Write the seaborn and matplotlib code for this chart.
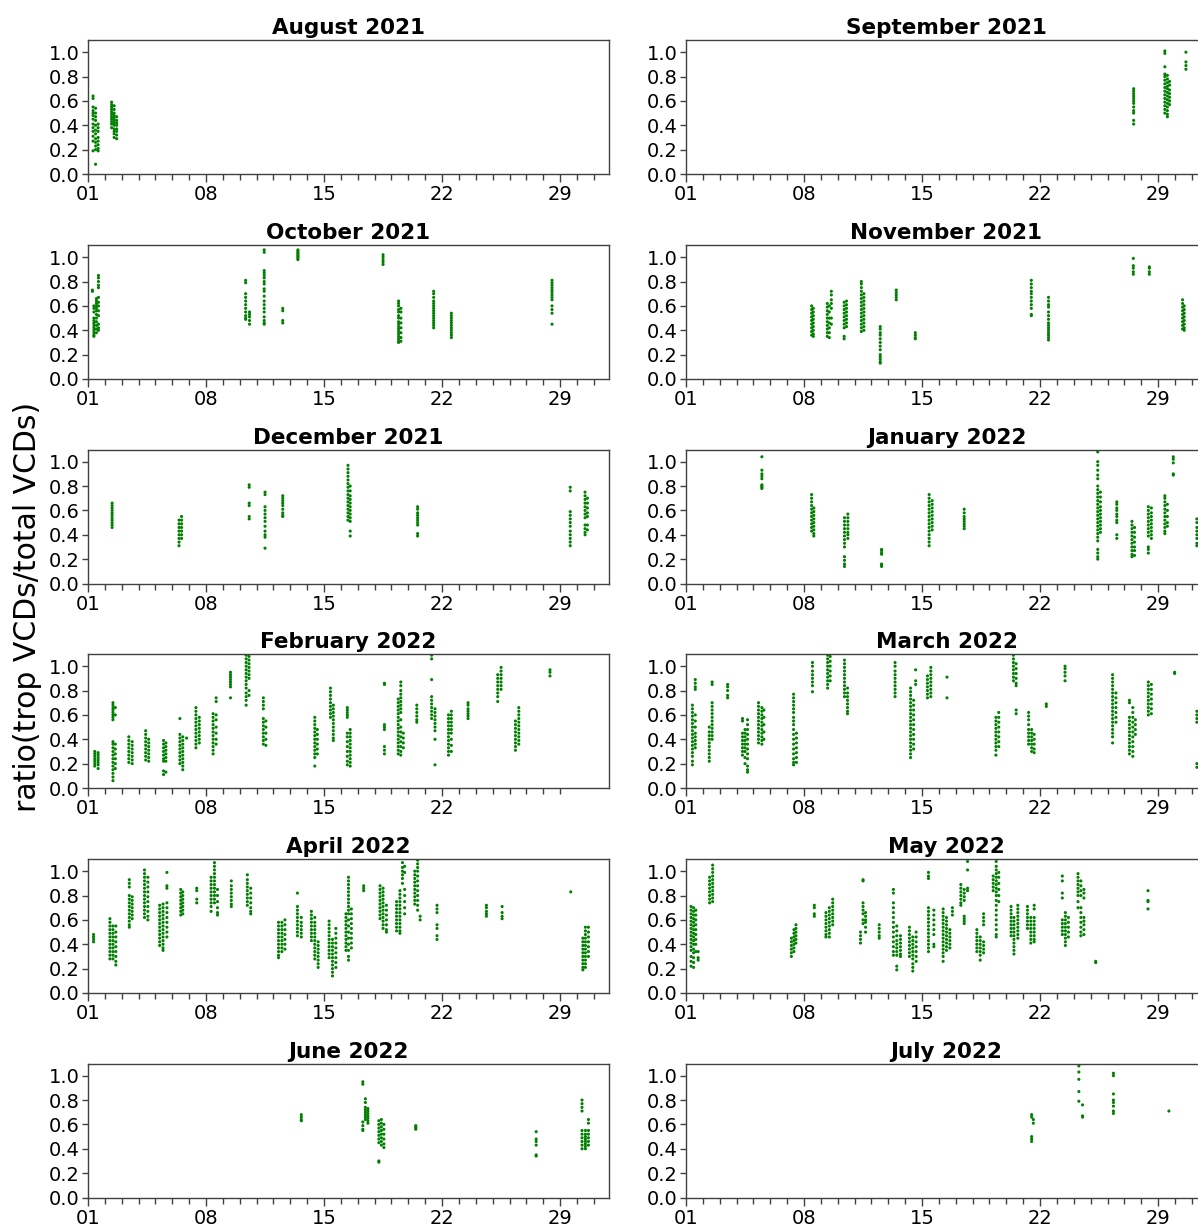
import numpy as np
import pandas as pd
import matplotlib
matplotlib.use("Agg")
import matplotlib.pyplot as plt
import seaborn as sns
from matplotlib.ticker import FixedLocator

# ---------------- data (day of month, ratio values) ----------------
MONTH_TITLES = ["August 2021", "September 2021", "October 2021", "November 2021",
                "December 2021", "January 2022", "February 2022", "March 2022",
                "April 2022", "May 2022", "June 2022", "July 2022"]
MONTH_DAYS = [31, 30, 31, 30, 31, 31, 28, 31, 30, 31, 30, 31]

AUG_2021 = [
    (1.30, [0.64, 0.62, 0.55, 0.52, 0.50, 0.48, 0.45, 0.41, 0.38, 0.35, 0.31, 0.27, 0.19]),
    (1.45, [0.54, 0.50, 0.47, 0.44, 0.40, 0.36, 0.33, 0.29, 0.26, 0.23, 0.20, 0.08]),
    (1.60, [0.41, 0.38, 0.35, 0.30, 0.27, 0.24, 0.21, 0.19]),
    (2.40, [0.59, 0.57, 0.55, 0.53, 0.51, 0.49, 0.47, 0.45, 0.43, 0.41, 0.38]),
    (2.55, [0.56, 0.53, 0.50, 0.48, 0.46, 0.44, 0.42, 0.40, 0.37, 0.35, 0.33, 0.30]),
    (2.70, [0.47, 0.44, 0.42, 0.40, 0.37, 0.35, 0.32, 0.29]),
]
SEP_2021 = [
    (27.55, [0.70, 0.68, 0.66, 0.64, 0.62, 0.60, 0.58, 0.55, 0.52, 0.50, 0.44, 0.41]),
    (29.40, [1.01, 0.99, 0.88, 0.82, 0.80, 0.77, 0.74, 0.71, 0.68, 0.65, 0.62, 0.59, 0.56, 0.53, 0.50]),
    (29.55, [0.81, 0.78, 0.75, 0.72, 0.70, 0.67, 0.64, 0.61, 0.58, 0.55, 0.52, 0.49, 0.47]),
    (29.68, [0.76, 0.73, 0.69, 0.66, 0.63, 0.60, 0.57]),
    (30.65, [1.00, 0.92, 0.89, 0.86]),
]
OCT_2021 = [
    (1.26, [0.73, 0.72]),
    (1.35, [0.60, 0.58, 0.55, 0.50, 0.48, 0.46, 0.44, 0.42, 0.40, 0.38, 0.36, 0.35]),
    (1.50, [0.66, 0.64, 0.62, 0.60, 0.58, 0.56, 0.53, 0.50, 0.47, 0.44, 0.41, 0.38]),
    (1.62, [0.85, 0.83, 0.80, 0.77, 0.75, 0.67, 0.63, 0.60, 0.56, 0.52, 0.45, 0.42, 0.40]),
    (10.35, [0.81, 0.79, 0.70, 0.67, 0.64, 0.61, 0.58, 0.55, 0.52, 0.50, 0.49]),
    (10.58, [0.55, 0.53, 0.51, 0.48, 0.45]),
    (11.45, [1.06, 1.04, 0.89, 0.87, 0.85, 0.83, 0.80, 0.78, 0.74, 0.72, 0.68, 0.64, 0.61, 0.58, 0.55, 0.51, 0.48, 0.46, 0.45]),
    (12.55, [0.58, 0.56, 0.48, 0.46]),
    (13.45, [1.06, 1.05, 1.04, 1.03, 1.02, 1.01, 1.00, 0.99, 0.98]),
    (18.50, [1.02, 1.00, 0.98, 0.96, 0.94]),
    (19.42, [0.64, 0.62, 0.60, 0.57, 0.55, 0.52, 0.50, 0.47, 0.45, 0.43, 0.41, 0.39, 0.37, 0.35, 0.33, 0.31, 0.30]),
    (19.56, [0.58, 0.55, 0.50, 0.46, 0.42, 0.38, 0.34, 0.31]),
    (21.50, [0.72, 0.70, 0.67, 0.64, 0.62, 0.60, 0.58, 0.56, 0.54, 0.52, 0.50, 0.48, 0.46, 0.44, 0.42]),
    (22.55, [0.54, 0.52, 0.50, 0.48, 0.46, 0.44, 0.42, 0.40, 0.38, 0.36, 0.34]),
    (28.52, [0.81, 0.79, 0.77, 0.75, 0.73, 0.71, 0.69, 0.67, 0.65, 0.60, 0.57, 0.54, 0.45]),
]
NOV_2021 = [
    (8.45, [0.60, 0.57, 0.54, 0.51, 0.48, 0.45, 0.42, 0.39, 0.36]),
    (8.55, [0.58, 0.55, 0.52, 0.49, 0.46, 0.43, 0.40, 0.37, 0.35]),
    (9.38, [0.62, 0.59, 0.56, 0.53, 0.50, 0.47, 0.44, 0.41, 0.38, 0.35]),
    (9.50, [0.60, 0.55, 0.50, 0.46, 0.42, 0.38, 0.34]),
    (9.62, [0.72, 0.69, 0.65, 0.62, 0.58, 0.50, 0.45]),
    (10.38, [0.63, 0.60, 0.57, 0.54, 0.51, 0.48, 0.45, 0.42, 0.35, 0.33]),
    (10.52, [0.64, 0.61, 0.58, 0.55, 0.52, 0.49, 0.46, 0.43]),
    (11.40, [0.80, 0.78, 0.75, 0.72, 0.69, 0.66, 0.63, 0.60, 0.57, 0.54, 0.51, 0.48, 0.45, 0.42, 0.39]),
    (11.55, [0.70, 0.67, 0.64, 0.61, 0.58, 0.55, 0.52, 0.49, 0.46, 0.43, 0.40]),
    (12.52, [0.43, 0.41, 0.38, 0.36, 0.33, 0.30, 0.27, 0.24, 0.20, 0.18, 0.16, 0.14, 0.13]),
    (13.47, [0.73, 0.71, 0.69, 0.67, 0.65]),
    (14.60, [0.38, 0.36, 0.34, 0.33]),
    (21.48, [0.81, 0.78, 0.75, 0.72, 0.70, 0.67, 0.64, 0.61, 0.58, 0.53, 0.52]),
    (22.50, [0.67, 0.64, 0.61, 0.59, 0.55, 0.52, 0.49, 0.46, 0.44, 0.42, 0.40, 0.38, 0.36, 0.34, 0.32]),
    (27.53, [0.99, 0.93, 0.91, 0.88, 0.86]),
    (28.48, [0.92, 0.91, 0.88, 0.86]),
    (30.45, [0.65, 0.62, 0.59, 0.56, 0.53, 0.50, 0.47, 0.44, 0.41]),
    (30.55, [0.60, 0.57, 0.54, 0.51, 0.48, 0.45, 0.42, 0.40]),
]
DEC_2021 = [
    (2.43, [0.66, 0.64, 0.62, 0.60, 0.58, 0.56, 0.54, 0.52, 0.50, 0.48, 0.46]),
    (6.40, [0.52, 0.49, 0.46, 0.43, 0.40, 0.37, 0.34, 0.31]),
    (6.55, [0.55, 0.52, 0.49, 0.46, 0.43, 0.40, 0.37]),
    (10.56, [0.81, 0.79, 0.66, 0.64, 0.55, 0.53]),
    (11.50, [0.75, 0.73, 0.63, 0.60, 0.57, 0.54, 0.51, 0.47, 0.43, 0.40, 0.38, 0.29]),
    (12.55, [0.72, 0.70, 0.68, 0.66, 0.64, 0.61, 0.58, 0.56, 0.55]),
    (16.42, [0.97, 0.94, 0.91, 0.88, 0.85, 0.82, 0.79, 0.76, 0.73, 0.70, 0.67, 0.64, 0.61, 0.58, 0.55, 0.52]),
    (16.55, [0.80, 0.76, 0.72, 0.69, 0.66, 0.63, 0.60, 0.57, 0.54, 0.51, 0.43, 0.39]),
    (20.55, [0.63, 0.61, 0.58, 0.56, 0.54, 0.52, 0.50, 0.48, 0.41, 0.39]),
    (29.60, [0.79, 0.76, 0.59, 0.56, 0.53, 0.50, 0.47, 0.43, 0.40, 0.37, 0.34, 0.31]),
    (30.48, [0.75, 0.72, 0.69, 0.66, 0.63, 0.60, 0.57, 0.54, 0.48, 0.45, 0.42, 0.40]),
    (30.62, [0.70, 0.66, 0.62, 0.58, 0.55, 0.48, 0.44]),
]
JAN_2022 = [
    (5.50, [1.04, 0.93, 0.90, 0.88, 0.86, 0.81, 0.80, 0.79, 0.78]),
    (8.45, [0.73, 0.70, 0.67, 0.64, 0.61, 0.58, 0.55, 0.52, 0.49, 0.46, 0.43]),
    (8.58, [0.62, 0.59, 0.56, 0.53, 0.50, 0.47, 0.44, 0.41, 0.39]),
    (10.40, [0.54, 0.51, 0.48, 0.45, 0.42, 0.39, 0.36, 0.33, 0.30, 0.22, 0.19, 0.16, 0.14]),
    (10.60, [0.57, 0.54, 0.51, 0.48, 0.45, 0.42, 0.40, 0.37]),
    (12.60, [0.28, 0.27, 0.25, 0.24, 0.16, 0.15, 0.14]),
    (15.42, [0.73, 0.70, 0.67, 0.64, 0.61, 0.58, 0.55, 0.52, 0.49, 0.46, 0.43, 0.40, 0.37, 0.34, 0.31]),
    (15.60, [0.68, 0.65, 0.62, 0.59, 0.56, 0.53, 0.50, 0.47, 0.44]),
    (17.50, [0.61, 0.58, 0.55, 0.53, 0.51, 0.49, 0.47, 0.45]),
    (25.42, [1.08, 1.00, 0.97, 0.93, 0.89, 0.86, 0.80, 0.77, 0.74, 0.71, 0.68, 0.65, 0.62, 0.59, 0.56,
             0.53, 0.50, 0.47, 0.44, 0.41, 0.38, 0.35, 0.28, 0.25, 0.22, 0.20]),
    (25.58, [0.75, 0.71, 0.67, 0.63, 0.60, 0.57, 0.54, 0.51, 0.48, 0.45, 0.42]),
    (26.55, [0.67, 0.65, 0.62, 0.60, 0.57, 0.55, 0.52, 0.50, 0.40, 0.37]),
    (27.45, [0.51, 0.48, 0.45, 0.42, 0.39, 0.36, 0.33, 0.30, 0.27, 0.24, 0.22]),
    (27.60, [0.46, 0.42, 0.38, 0.34, 0.30, 0.27, 0.23]),
    (28.42, [0.63, 0.60, 0.57, 0.54, 0.51, 0.48, 0.45, 0.42, 0.39, 0.30, 0.28, 0.25]),
    (28.60, [0.62, 0.58, 0.55, 0.52, 0.49, 0.46, 0.43, 0.40, 0.37]),
    (29.40, [0.72, 0.70, 0.67, 0.64, 0.61, 0.58, 0.55, 0.52, 0.49, 0.46, 0.43, 0.41]),
    (29.55, [0.65, 0.60, 0.55, 0.50, 0.47]),
    (29.90, [1.04, 1.02, 0.99, 0.90, 0.89]),
    (31.30, [0.53, 0.50, 0.46, 0.43, 0.40, 0.37, 0.33, 0.31]),
]
FEB_2022 = [
    (1.40, [0.30, 0.28, 0.26, 0.24, 0.22, 0.20, 0.18]),
    (1.60, [0.29, 0.27, 0.25, 0.23, 0.21, 0.19, 0.16]),
    (2.48, [0.70, 0.68, 0.66, 0.64, 0.62, 0.60, 0.58, 0.56, 0.38, 0.36, 0.33, 0.30, 0.27, 0.24, 0.21,
            0.18, 0.15, 0.12, 0.09, 0.06]),
    (2.62, [0.66, 0.60, 0.36, 0.32, 0.28, 0.24, 0.20, 0.16]),
    (3.42, [0.42, 0.39, 0.36, 0.33, 0.30, 0.27, 0.24, 0.21]),
    (3.62, [0.38, 0.35, 0.32, 0.29, 0.26, 0.23, 0.20]),
    (4.42, [0.47, 0.44, 0.41, 0.38, 0.35, 0.32, 0.29, 0.26, 0.23]),
    (4.60, [0.40, 0.37, 0.34, 0.31, 0.28, 0.25, 0.22]),
    (5.48, [0.39, 0.36, 0.33, 0.30, 0.27, 0.24, 0.22, 0.14, 0.11]),
    (5.62, [0.37, 0.34, 0.31, 0.28, 0.25, 0.22, 0.13]),
    (6.45, [0.57, 0.44, 0.41, 0.38, 0.35, 0.32, 0.29, 0.26, 0.23, 0.20]),
    (6.62, [0.42, 0.39, 0.36, 0.33, 0.30, 0.27, 0.24, 0.21, 0.18, 0.15]),
    (6.85, [0.41]),
    (7.40, [0.66, 0.63, 0.60, 0.57, 0.54, 0.51, 0.48, 0.45, 0.42, 0.39, 0.36, 0.33]),
    (7.60, [0.58, 0.55, 0.52, 0.49, 0.46, 0.43, 0.40, 0.37]),
    (8.42, [0.61, 0.58, 0.55, 0.52, 0.49, 0.46, 0.43, 0.40, 0.37, 0.34, 0.31, 0.28]),
    (8.60, [0.74, 0.71, 0.60, 0.56, 0.50, 0.45, 0.40, 0.36]),
    (9.45, [0.95, 0.93, 0.91, 0.89, 0.87, 0.85, 0.83, 0.74]),
    (10.38, [1.09, 1.06, 1.03, 1.00, 0.97, 0.94, 0.91, 0.88, 0.85, 0.82, 0.78, 0.75, 0.72, 0.68]),
    (10.55, [1.08, 1.05, 1.02, 0.99, 0.96, 0.93, 0.90, 0.80, 0.76]),
    (11.40, [0.74, 0.71, 0.68, 0.65, 0.57, 0.54, 0.51, 0.48, 0.45, 0.42, 0.39, 0.36]),
    (11.55, [0.55, 0.50, 0.45, 0.40, 0.35]),
    (14.45, [0.58, 0.55, 0.52, 0.49, 0.46, 0.43, 0.40, 0.37, 0.34, 0.31, 0.28, 0.25, 0.18]),
    (14.60, [0.48, 0.44, 0.40, 0.36, 0.32, 0.28]),
    (15.38, [0.82, 0.79, 0.76, 0.73, 0.70, 0.67, 0.64, 0.61, 0.58]),
    (15.55, [0.68, 0.65, 0.62, 0.59, 0.56, 0.53, 0.50, 0.47, 0.44, 0.41, 0.39]),
    (16.38, [0.66, 0.64, 0.62, 0.60, 0.58, 0.45, 0.42, 0.38, 0.34, 0.30, 0.26, 0.22, 0.19]),
    (16.55, [0.48, 0.45, 0.42, 0.39, 0.36, 0.33, 0.30, 0.27, 0.24, 0.21, 0.18]),
    (18.58, [0.86, 0.85, 0.52, 0.50, 0.48, 0.34, 0.31, 0.28]),
    (19.40, [0.73, 0.70, 0.67, 0.64, 0.61, 0.58, 0.55, 0.52, 0.49, 0.46, 0.43, 0.40, 0.37, 0.34, 0.31, 0.28]),
    (19.55, [0.87, 0.84, 0.80, 0.77, 0.74, 0.71, 0.68, 0.65, 0.62, 0.56, 0.50, 0.46, 0.42, 0.38, 0.34,
             0.30, 0.27]),
    (19.70, [0.45, 0.41, 0.37, 0.33]),
    (20.50, [0.68, 0.65, 0.62, 0.59, 0.56, 0.54]),
    (21.38, [1.09, 1.06, 0.89, 0.75, 0.72, 0.69, 0.66, 0.63, 0.60, 0.57]),
    (21.58, [0.65, 0.62, 0.59, 0.56, 0.53, 0.50, 0.47, 0.40, 0.19]),
    (22.38, [0.60, 0.57, 0.54, 0.51, 0.48, 0.45, 0.42, 0.39, 0.36, 0.33, 0.30, 0.27]),
    (22.55, [0.63, 0.60, 0.57, 0.54, 0.51, 0.48, 0.45, 0.40, 0.35, 0.30]),
    (23.54, [0.70, 0.68, 0.65, 0.63, 0.61, 0.59, 0.57]),
    (25.30, [0.93, 0.90, 0.87, 0.84, 0.81, 0.78, 0.75, 0.71]),
    (25.50, [0.99, 0.96, 0.93, 0.90, 0.87, 0.84, 0.81]),
    (26.35, [0.55, 0.52, 0.49, 0.46, 0.43, 0.40, 0.37, 0.34, 0.31]),
    (26.55, [0.66, 0.63, 0.60, 0.57, 0.54, 0.51, 0.48, 0.45, 0.42, 0.39, 0.36]),
    (28.40, [0.97, 0.95, 0.92]),
]
MAR_2022 = [
    (1.38, [0.68, 0.65, 0.62, 0.59, 0.56, 0.53, 0.50, 0.47, 0.44, 0.41, 0.38, 0.35, 0.32, 0.29, 0.26, 0.22, 0.19]),
    (1.55, [0.89, 0.86, 0.83, 0.81, 0.60, 0.55, 0.50, 0.45, 0.42, 0.39, 0.36, 0.33]),
    (2.38, [0.50, 0.46, 0.43, 0.40, 0.37, 0.34, 0.31, 0.28, 0.25, 0.22]),
    (2.55, [0.87, 0.85, 0.70, 0.67, 0.64, 0.61, 0.58, 0.55, 0.52, 0.49, 0.46, 0.43, 0.40]),
    (3.47, [0.85, 0.83, 0.80, 0.76, 0.74]),
    (4.35, [0.57, 0.55, 0.45, 0.42, 0.39, 0.36, 0.33, 0.30, 0.27]),
    (4.50, [0.48, 0.45, 0.42, 0.39, 0.36, 0.33, 0.30, 0.25, 0.20]),
    (4.65, [0.56, 0.52, 0.48, 0.44, 0.40, 0.36, 0.32, 0.28, 0.24, 0.18, 0.15, 0.13]),
    (5.30, [0.70, 0.67, 0.64, 0.61, 0.58, 0.55, 0.52, 0.49, 0.46, 0.43, 0.40, 0.37]),
    (5.50, [0.66, 0.63, 0.60, 0.57, 0.54, 0.51, 0.48, 0.45, 0.42, 0.39, 0.36]),
    (5.62, [0.64, 0.58, 0.52, 0.46, 0.40]),
    (7.38, [0.77, 0.74, 0.71, 0.68, 0.65, 0.62, 0.58, 0.55, 0.52, 0.48, 0.44, 0.40, 0.36, 0.32, 0.28, 0.24, 0.21, 0.19]),
    (7.55, [0.45, 0.41, 0.37, 0.33, 0.29, 0.25, 0.21]),
    (8.50, [1.03, 1.00, 0.96, 0.93, 0.90, 0.87, 0.84, 0.79]),
    (9.40, [1.09, 1.06, 1.03, 1.00, 0.97, 0.94, 0.91, 0.88, 0.85, 0.82]),
    (9.55, [1.08, 1.04, 1.00, 0.96, 0.92, 0.88]),
    (10.40, [1.05, 1.02, 0.99, 0.96, 0.93, 0.90, 0.87, 0.84, 0.81, 0.78, 0.75]),
    (10.58, [0.82, 0.78, 0.75, 0.72, 0.69, 0.66, 0.63, 0.61]),
    (13.40, [1.03, 1.00, 0.96, 0.93, 0.90, 0.87, 0.84, 0.81, 0.78, 0.75]),
    (14.32, [0.82, 0.79, 0.76, 0.73, 0.70, 0.67, 0.64, 0.61, 0.58, 0.55, 0.52, 0.49, 0.46, 0.43, 0.40,
             0.37, 0.34, 0.31, 0.28, 0.25]),
    (14.50, [0.72, 0.68, 0.64, 0.60, 0.56, 0.52, 0.48, 0.44, 0.40, 0.36, 0.32]),
    (14.62, [0.97, 0.88, 0.85]),
    (15.32, [0.92, 0.89, 0.86, 0.83, 0.80, 0.77, 0.74]),
    (15.52, [0.99, 0.96, 0.93, 0.90, 0.87, 0.84, 0.81, 0.78, 0.75]),
    (16.48, [0.91, 0.74]),
    (19.38, [0.58, 0.55, 0.52, 0.49, 0.46, 0.43, 0.40, 0.37, 0.34, 0.31, 0.27]),
    (19.55, [0.62, 0.58, 0.54, 0.50, 0.46, 0.42, 0.38, 0.34]),
    (20.42, [1.09, 1.06, 1.03, 1.00, 0.97, 0.94, 0.91, 0.88]),
    (20.58, [1.02, 0.98, 0.94, 0.90, 0.86, 0.84, 0.64, 0.61]),
    (21.32, [0.62, 0.59, 0.56, 0.52, 0.48, 0.45, 0.42, 0.39, 0.36]),
    (21.50, [0.48, 0.45, 0.42, 0.39, 0.36, 0.33, 0.30]),
    (21.65, [0.44, 0.40, 0.36, 0.32, 0.29]),
    (22.37, [0.69, 0.67]),
    (23.48, [1.00, 0.98, 0.95, 0.92, 0.88]),
    (26.30, [0.93, 0.90, 0.87, 0.84, 0.81, 0.78, 0.75, 0.72, 0.69, 0.66, 0.63, 0.60, 0.57, 0.54, 0.51,
             0.48, 0.45, 0.42, 0.37]),
    (26.50, [0.78, 0.74, 0.70, 0.66, 0.62, 0.58, 0.54]),
    (27.30, [0.72, 0.70, 0.58, 0.55, 0.52, 0.49, 0.46, 0.43, 0.40, 0.37, 0.34, 0.31, 0.28]),
    (27.50, [0.66, 0.62, 0.58, 0.54, 0.50, 0.46, 0.42, 0.38, 0.34, 0.30, 0.26]),
    (27.65, [0.56, 0.52, 0.48, 0.44]),
    (28.42, [0.87, 0.84, 0.81, 0.78, 0.75, 0.72, 0.69, 0.66, 0.63, 0.60]),
    (28.60, [0.85, 0.81, 0.77, 0.73, 0.69, 0.65, 0.61]),
    (29.98, [0.95, 0.94]),
    (31.30, [0.63, 0.60, 0.57, 0.54, 0.20, 0.17]),
]
APR_2022 = [
    (1.33, [0.48, 0.46, 0.44, 0.42]),
    (2.30, [0.61, 0.58, 0.55, 0.52, 0.49, 0.46, 0.43, 0.40, 0.37, 0.34, 0.31, 0.28]),
    (2.48, [0.55, 0.52, 0.49, 0.46, 0.43, 0.40, 0.37, 0.34, 0.31, 0.28]),
    (2.65, [0.55, 0.50, 0.46, 0.42, 0.38, 0.34, 0.30, 0.26, 0.23]),
    (3.45, [0.93, 0.90, 0.87, 0.80, 0.77, 0.74, 0.71, 0.68, 0.65, 0.62, 0.59, 0.56, 0.54]),
    (3.62, [0.79, 0.76, 0.73, 0.70, 0.67, 0.64, 0.61]),
    (4.35, [1.01, 0.98, 0.95, 0.92, 0.89, 0.86, 0.83, 0.80, 0.77, 0.74, 0.71, 0.68, 0.65, 0.62]),
    (4.55, [0.95, 0.91, 0.87, 0.83, 0.79, 0.75, 0.71, 0.67, 0.63, 0.60]),
    (5.25, [0.72, 0.69, 0.66, 0.63, 0.60, 0.57, 0.54, 0.51, 0.48, 0.45, 0.42, 0.39]),
    (5.45, [0.73, 0.70, 0.67, 0.64, 0.61, 0.58, 0.55, 0.52, 0.49, 0.46, 0.43, 0.40, 0.37, 0.35]),
    (5.68, [0.99, 0.88, 0.86, 0.74, 0.70, 0.66, 0.62, 0.58, 0.54, 0.50, 0.46]),
    (6.50, [0.85, 0.82, 0.79, 0.76, 0.73, 0.70, 0.67, 0.64]),
    (6.62, [0.83, 0.80, 0.77, 0.74, 0.71, 0.68, 0.65]),
    (7.45, [0.86, 0.84, 0.77, 0.74]),
    (8.30, [0.95, 0.92, 0.89, 0.86, 0.83, 0.80, 0.77, 0.74, 0.71, 0.67]),
    (8.50, [1.07, 1.04, 1.01, 0.98, 0.95, 0.92, 0.89, 0.86, 0.83, 0.80, 0.77, 0.74]),
    (8.68, [0.85, 0.80, 0.75, 0.70, 0.66, 0.64]),
    (9.50, [0.92, 0.88, 0.85, 0.82, 0.79, 0.76, 0.73, 0.71]),
    (10.45, [0.97, 0.93, 0.90, 0.87, 0.84, 0.81, 0.78, 0.75, 0.72]),
    (10.65, [0.86, 0.82, 0.78, 0.74, 0.70, 0.67, 0.65]),
    (12.30, [0.58, 0.55, 0.52, 0.49, 0.46, 0.43, 0.40, 0.37, 0.34, 0.31, 0.29]),
    (12.50, [0.58, 0.55, 0.52, 0.49, 0.46, 0.43, 0.40, 0.37, 0.34]),
    (12.68, [0.60, 0.56, 0.52, 0.48, 0.44, 0.40, 0.36]),
    (13.42, [0.82, 0.71, 0.68, 0.65, 0.62, 0.59, 0.56, 0.53, 0.50, 0.47]),
    (13.65, [0.62, 0.58, 0.55, 0.52, 0.49, 0.46]),
    (14.25, [0.67, 0.64, 0.61, 0.58, 0.55, 0.52, 0.49, 0.46, 0.43]),
    (14.45, [0.62, 0.58, 0.55, 0.52, 0.49, 0.46, 0.43, 0.40, 0.37, 0.34, 0.31, 0.28]),
    (14.65, [0.42, 0.39, 0.36, 0.33, 0.30, 0.27, 0.24, 0.21]),
    (15.30, [0.59, 0.56, 0.53, 0.50, 0.47, 0.44, 0.41, 0.38, 0.35, 0.32, 0.29]),
    (15.50, [0.44, 0.41, 0.38, 0.35, 0.32, 0.29, 0.26, 0.23, 0.20, 0.17, 0.14]),
    (15.70, [0.53, 0.49, 0.45, 0.41, 0.37, 0.33, 0.29, 0.25, 0.21]),
    (16.30, [0.65, 0.62, 0.59, 0.56, 0.53, 0.50, 0.47, 0.44, 0.41, 0.38, 0.35]),
    (16.45, [0.95, 0.92, 0.89, 0.86, 0.83, 0.80, 0.77, 0.74, 0.71, 0.68, 0.65, 0.60, 0.55, 0.50, 0.45,
             0.40, 0.35, 0.30, 0.27]),
    (16.62, [0.69, 0.65, 0.61, 0.57, 0.53, 0.49, 0.45, 0.41, 0.37]),
    (17.35, [0.88, 0.86, 0.84]),
    (18.32, [0.88, 0.85, 0.82, 0.79, 0.76, 0.73, 0.70, 0.67, 0.64, 0.61]),
    (18.50, [0.86, 0.83, 0.80, 0.77, 0.74, 0.71, 0.68, 0.65, 0.62, 0.59, 0.56, 0.53]),
    (18.70, [0.72, 0.68, 0.64, 0.60, 0.56, 0.52, 0.50]),
    (19.30, [0.75, 0.72, 0.69, 0.66, 0.63, 0.60, 0.57, 0.54, 0.51]),
    (19.50, [0.84, 0.81, 0.78, 0.75, 0.72, 0.69, 0.66, 0.63, 0.60, 0.57, 0.54, 0.51, 0.49]),
    (19.65, [1.07, 1.03, 1.00, 0.97, 0.94, 0.90]),
    (19.78, [1.04, 0.99, 0.85, 0.80, 0.75, 0.70, 0.65]),
    (20.38, [1.00, 0.97, 0.94, 0.91, 0.88, 0.85, 0.82, 0.79, 0.76, 0.73]),
    (20.55, [1.09, 1.06, 1.03, 1.00, 0.96, 0.92, 0.88, 0.84, 0.80, 0.76, 0.72, 0.68]),
    (20.70, [0.63, 0.60]),
    (21.70, [0.72, 0.69, 0.66, 0.56, 0.53, 0.47, 0.44]),
    (24.63, [0.72, 0.70, 0.67, 0.65, 0.63]),
    (25.56, [0.71, 0.66, 0.63, 0.61]),
    (29.63, [0.83]),
    (30.35, [0.45, 0.42, 0.39, 0.36, 0.33, 0.30, 0.27, 0.24, 0.21, 0.19]),
    (30.50, [0.54, 0.51, 0.48, 0.45, 0.42, 0.39, 0.36, 0.33, 0.30, 0.27, 0.24, 0.21]),
    (30.68, [0.54, 0.50, 0.46, 0.42, 0.38, 0.34, 0.30]),
]
MAY_2022 = [
    (1.30, [0.71, 0.68, 0.65, 0.62, 0.59, 0.56, 0.53, 0.50, 0.47, 0.44, 0.41, 0.38, 0.35, 0.30, 0.26, 0.22]),
    (1.45, [0.70, 0.67, 0.64, 0.61, 0.58, 0.55, 0.52, 0.49, 0.46, 0.43, 0.40, 0.36, 0.33, 0.29, 0.25, 0.21]),
    (1.58, [0.68, 0.64, 0.60, 0.56, 0.52, 0.48, 0.44, 0.40, 0.34]),
    (1.72, [0.34, 0.29, 0.27]),
    (2.40, [0.95, 0.92, 0.89, 0.86, 0.83, 0.80, 0.77, 0.74]),
    (2.58, [1.05, 1.02, 0.99, 0.96, 0.93, 0.90, 0.87, 0.84, 0.81, 0.78, 0.75]),
    (7.25, [0.45, 0.42, 0.39, 0.36, 0.33, 0.30]),
    (7.40, [0.52, 0.49, 0.46, 0.43, 0.40, 0.37, 0.34]),
    (7.52, [0.56, 0.53, 0.50, 0.47, 0.44, 0.41]),
    (8.61, [0.72, 0.70, 0.65, 0.63]),
    (9.30, [0.66, 0.63, 0.60, 0.57, 0.54, 0.51, 0.48, 0.46]),
    (9.50, [0.70, 0.67, 0.64, 0.61, 0.58, 0.55, 0.52, 0.49, 0.46]),
    (9.70, [0.77, 0.74, 0.71, 0.68, 0.65, 0.62, 0.59, 0.56]),
    (11.35, [0.50, 0.47, 0.44, 0.41]),
    (11.50, [0.93, 0.92, 0.74, 0.71, 0.68, 0.65, 0.60, 0.57]),
    (11.65, [0.66, 0.63, 0.60, 0.58, 0.54, 0.50]),
    (12.46, [0.56, 0.53, 0.50, 0.47, 0.45]),
    (13.30, [0.85, 0.82, 0.74, 0.70, 0.66, 0.62, 0.58, 0.54, 0.50, 0.46, 0.42, 0.38, 0.34, 0.31]),
    (13.50, [0.55, 0.51, 0.47, 0.43, 0.40, 0.37, 0.34, 0.31, 0.22, 0.19]),
    (13.72, [0.47, 0.44, 0.41, 0.38, 0.35, 0.32, 0.30]),
    (14.25, [0.54, 0.51, 0.48, 0.45, 0.42, 0.39, 0.36, 0.33, 0.30]),
    (14.45, [0.46, 0.43, 0.40, 0.37, 0.34, 0.31, 0.28, 0.24, 0.21, 0.18]),
    (14.65, [0.50, 0.46, 0.42, 0.38, 0.34, 0.30, 0.26]),
    (15.38, [0.99, 0.96, 0.94, 0.70, 0.67, 0.64, 0.61, 0.58, 0.55, 0.52, 0.49, 0.46, 0.43, 0.40, 0.37, 0.34]),
    (15.70, [0.68, 0.64, 0.60, 0.56, 0.52, 0.48, 0.40, 0.38]),
    (16.25, [0.69, 0.66, 0.63, 0.60, 0.57, 0.54, 0.51, 0.48, 0.45, 0.42, 0.39, 0.36, 0.33, 0.30, 0.26]),
    (16.45, [0.62, 0.59, 0.56, 0.53, 0.50, 0.47, 0.44, 0.41, 0.38, 0.35]),
    (16.65, [0.52, 0.49, 0.46, 0.43, 0.40, 0.37]),
    (16.80, [0.70, 0.67, 0.64]),
    (17.30, [0.89, 0.86, 0.83, 0.80, 0.77, 0.74, 0.72]),
    (17.50, [0.85, 0.82, 0.79, 0.76, 0.63, 0.61, 0.59, 0.57]),
    (17.70, [1.08, 1.01, 0.86, 0.84]),
    (18.25, [0.52, 0.49, 0.46, 0.43, 0.40, 0.37, 0.34]),
    (18.45, [0.46, 0.43, 0.40, 0.37, 0.34, 0.31, 0.27]),
    (18.65, [0.65, 0.62, 0.59, 0.56, 0.42, 0.39, 0.36, 0.33]),
    (19.22, [0.96, 0.93, 0.90, 0.87, 0.84]),
    (19.40, [1.08, 1.04, 1.01, 0.98, 0.95, 0.92, 0.89, 0.86, 0.83, 0.80, 0.76, 0.72, 0.68, 0.64, 0.60,
             0.56, 0.52, 0.48, 0.46]),
    (19.55, [0.99, 0.95, 0.90, 0.85, 0.80, 0.75]),
    (20.28, [0.71, 0.68, 0.65, 0.62, 0.59, 0.56, 0.53, 0.50, 0.47]),
    (20.45, [0.62, 0.59, 0.56, 0.53, 0.50, 0.47, 0.44, 0.41, 0.38, 0.35, 0.32]),
    (20.68, [0.72, 0.69, 0.66, 0.63, 0.60, 0.57, 0.54, 0.51, 0.48, 0.45]),
    (21.25, [0.71, 0.68, 0.65, 0.62, 0.59, 0.56, 0.53]),
    (21.45, [0.62, 0.59, 0.56, 0.53, 0.50, 0.47, 0.44, 0.41]),
    (21.65, [0.72, 0.69, 0.62, 0.59, 0.56, 0.53, 0.50, 0.47, 0.44, 0.42]),
    (23.32, [0.96, 0.92, 0.82, 0.78, 0.60, 0.57, 0.54, 0.51, 0.48]),
    (23.50, [0.66, 0.63, 0.60, 0.57, 0.54, 0.51, 0.48, 0.45, 0.42, 0.39]),
    (23.68, [0.62, 0.58, 0.54, 0.50, 0.46]),
    (24.25, [0.98, 0.95, 0.92, 0.89, 0.86, 0.83, 0.80, 0.75, 0.70]),
    (24.42, [0.92, 0.88, 0.84, 0.80, 0.70, 0.66, 0.62, 0.58, 0.54, 0.50, 0.47]),
    (24.60, [0.85, 0.82, 0.78, 0.62, 0.59, 0.56, 0.52, 0.48]),
    (25.30, [0.26, 0.25]),
    (28.40, [0.84, 0.76, 0.75, 0.69]),
]
JUN_2022 = [
    (13.65, [0.68, 0.66, 0.64, 0.63]),
    (17.30, [0.95, 0.93, 0.62, 0.59, 0.56, 0.55]),
    (17.45, [0.81, 0.78, 0.74, 0.72, 0.70, 0.68, 0.66, 0.64]),
    (17.60, [0.73, 0.71, 0.69, 0.67, 0.65, 0.63, 0.61]),
    (18.25, [0.63, 0.60, 0.57, 0.54, 0.51, 0.48, 0.45, 0.30, 0.29]),
    (18.40, [0.64, 0.61, 0.58, 0.55, 0.52, 0.49, 0.46, 0.43]),
    (18.55, [0.60, 0.56, 0.52, 0.48, 0.44, 0.41]),
    (20.44, [0.59, 0.58, 0.57, 0.56]),
    (27.58, [0.54, 0.48, 0.46, 0.43, 0.35, 0.34]),
    (30.30, [0.80, 0.77, 0.74, 0.71, 0.55, 0.52, 0.49, 0.46, 0.43, 0.40]),
    (30.50, [0.55, 0.52, 0.50, 0.48, 0.46, 0.44, 0.42, 0.40]),
    (30.68, [0.64, 0.61, 0.55, 0.52, 0.49, 0.46, 0.43]),
]
JUL_2022 = [
    (21.50, [0.68, 0.66, 0.50, 0.48, 0.46]),
    (21.60, [0.64, 0.61]),
    (24.30, [1.08, 1.03, 0.97, 0.87, 0.79]),
    (24.52, [0.76, 0.67, 0.66]),
    (26.35, [1.02, 1.00, 0.85, 0.80, 0.78, 0.75, 0.71, 0.69]),
    (29.64, [0.71]),
]

MONTH_DATA = [AUG_2021, SEP_2021, OCT_2021, NOV_2021, DEC_2021, JAN_2022,
              FEB_2022, MAR_2022, APR_2022, MAY_2022, JUN_2022, JUL_2022]

MAJOR_DAYS = [1, 8, 15, 22, 29]
Y_TICKS = [0.0, 0.2, 0.4, 0.6, 0.8, 1.0]
Y_LABEL = "ratio(trop VCDs/total VCDs)"

# ---------------- build table ----------------
rows = []
for title, data in zip(MONTH_TITLES, MONTH_DATA):
    for x, ys in data:
        for y in ys:
            rows.append((title, x, y))
df = pd.DataFrame(rows, columns=["month", "day", "ratio"])

# ---------------- plotting ----------------
sns.set_style("ticks")
plt.rcParams["font.family"] = ["DejaVu Sans"]
plt.rcParams["text.color"] = "black"
plt.rcParams["axes.labelcolor"] = "black"
plt.rcParams["axes.edgecolor"] = "#404040"
plt.rcParams["axes.linewidth"] = 1.0
plt.rcParams["xtick.color"] = "#404040"
plt.rcParams["ytick.color"] = "#404040"
plt.rcParams["xtick.labelcolor"] = "black"
plt.rcParams["ytick.labelcolor"] = "black"

W, H = 1198, 1232
fig = plt.figure(figsize=(W / 100, H / 100), dpi=100)

col_left_px = [88, 686]
ax_w_px = 521
row_bottom_px = [174, 379, 583.5, 788, 993, 1197.5]
ax_h_px = 134

for i, (title, ndays) in enumerate(zip(MONTH_TITLES, MONTH_DAYS)):
    r, c = divmod(i, 2)
    left = col_left_px[c] / W
    bottom = 1 - row_bottom_px[r] / H
    ax = fig.add_axes([left, bottom, ax_w_px / W, ax_h_px / H])
    sub = df[df["month"] == title]
    sns.scatterplot(data=sub, x="day", y="ratio", ax=ax, color="green",
                    s=5, marker="o", linewidth=0, edgecolor="none", legend=False)
    ax.set_xlim(1, 31.9)
    ax.set_ylim(0, 1.1)
    majors = [d for d in MAJOR_DAYS if d <= ndays]
    ax.xaxis.set_major_locator(FixedLocator(majors))
    ax.set_xticklabels([f"{d:02d}" for d in majors])
    ax.xaxis.set_minor_locator(FixedLocator([d for d in range(1, ndays + 2) if d not in majors]))
    ax.set_yticks(Y_TICKS)
    ax.set_yticklabels([f"{v:.1f}" for v in Y_TICKS])
    ax.tick_params(axis="x", which="major", length=6, width=1, labelsize=14, pad=2)
    ax.tick_params(axis="x", which="minor", length=4, width=1)
    ax.tick_params(axis="y", which="major", length=4, width=1, labelsize=14, pad=2)
    ax.set_xlabel("")
    ax.set_ylabel("")
    ax.set_title(title, fontsize=15.5, fontweight="bold", pad=4, color="black")
    for sp in ax.spines.values():
        sp.set_visible(True)

fig.text(28 / W, 1 - 607 / H, Y_LABEL, rotation=90, ha="center", va="center",
         fontsize=21.5, color="black")

fig.savefig("out.png", dpi=100)
